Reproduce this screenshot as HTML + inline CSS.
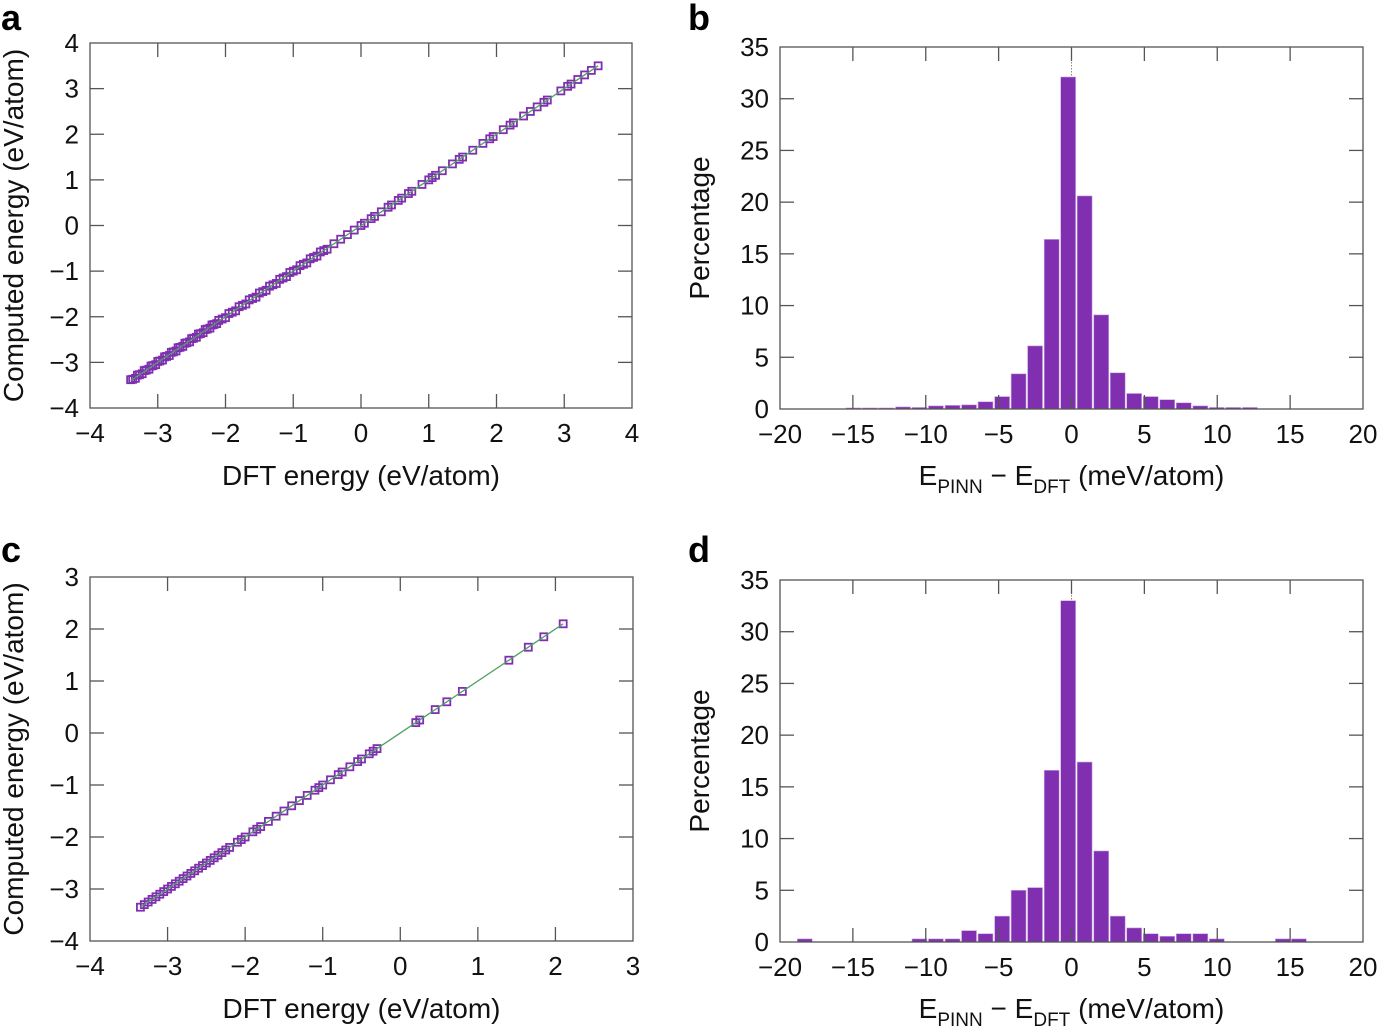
<!DOCTYPE html>
<html><head><meta charset="utf-8">
<style>
html,body{margin:0;padding:0;background:#fff;}
svg{display:block;font-family:"Liberation Sans",Arial,sans-serif;}
</style></head>
<body>
<svg id="fig" width="1379" height="1027" viewBox="0 0 1379 1027" xmlns="http://www.w3.org/2000/svg"></svg>
<script>
// ---- Panel a data (DFT vs computed energy, eV/atom) ----
const dftA = [-3.4,-3.37,-3.33,-3.3,-3.27,-3.23,-3.2,-3.17,-3.13,-3.1,-3.07,-3.03,-3.0,-2.97,-2.93,-2.9,-2.87,-2.83,-2.8,-2.77,-2.73,-2.7,-2.67,-2.63,-2.6,-2.57,-2.53,-2.5,-2.47,-2.43,-2.4,-2.37,-2.33,-2.3,-2.27,-2.23,-2.2,-2.17,-2.13,-2.1,-2.05,-2.0,-1.95,-1.9,-1.85,-1.8,-1.75,-1.7,-1.65,-1.6,-1.55,-1.5,-1.45,-1.4,-1.35,-1.3,-1.25,-1.2,-1.15,-1.1,-1.05,-1.0,-0.95,-0.9,-0.85,-0.8,-0.75,-0.7,-0.65,-0.6,-0.55,-0.5,-0.4,-0.3,-0.2,-0.1,0.0,0.05,0.15,0.2,0.3,0.4,0.45,0.55,0.6,0.7,0.75,0.9,1.0,1.05,1.1,1.2,1.35,1.45,1.5,1.65,1.8,1.9,1.95,2.1,2.2,2.25,2.4,2.5,2.6,2.7,2.75,2.95,3.05,3.1,3.2,3.3,3.4,3.5];
const compA = [-3.38,-3.37,-3.35,-3.28,-3.27,-3.25,-3.18,-3.17,-3.15,-3.08,-3.07,-3.05,-2.98,-2.97,-2.95,-2.88,-2.87,-2.85,-2.78,-2.77,-2.75,-2.68,-2.67,-2.65,-2.58,-2.57,-2.55,-2.48,-2.47,-2.45,-2.38,-2.37,-2.35,-2.28,-2.27,-2.25,-2.18,-2.17,-2.15,-2.08,-2.05,-2.02,-1.93,-1.9,-1.87,-1.78,-1.75,-1.72,-1.63,-1.6,-1.57,-1.48,-1.45,-1.42,-1.33,-1.3,-1.27,-1.18,-1.15,-1.12,-1.03,-1.0,-0.97,-0.88,-0.85,-0.82,-0.73,-0.7,-0.67,-0.58,-0.55,-0.52,-0.4,-0.3,-0.2,-0.1,0.0,0.05,0.15,0.2,0.3,0.4,0.45,0.55,0.6,0.7,0.75,0.9,1.0,1.05,1.1,1.2,1.35,1.45,1.5,1.65,1.8,1.9,1.95,2.1,2.2,2.25,2.4,2.5,2.6,2.7,2.75,2.95,3.05,3.1,3.2,3.3,3.4,3.5];
// ---- Panel c data ----
const dftC = [-3.35,-3.3,-3.25,-3.2,-3.15,-3.1,-3.05,-3.0,-2.95,-2.9,-2.85,-2.8,-2.75,-2.7,-2.65,-2.6,-2.55,-2.5,-2.45,-2.4,-2.35,-2.3,-2.25,-2.2,-2.1,-2.05,-2.0,-1.9,-1.85,-1.8,-1.7,-1.6,-1.5,-1.4,-1.3,-1.2,-1.1,-1.05,-1.0,-0.9,-0.8,-0.75,-0.65,-0.55,-0.5,-0.4,-0.35,-0.3,0.2,0.25,0.45,0.6,0.8,1.4,1.65,1.85,2.1];
const compC = [-3.35,-3.3,-3.25,-3.2,-3.15,-3.1,-3.05,-3.0,-2.95,-2.9,-2.85,-2.8,-2.75,-2.7,-2.65,-2.6,-2.55,-2.5,-2.45,-2.4,-2.35,-2.3,-2.25,-2.2,-2.1,-2.05,-2.0,-1.9,-1.85,-1.8,-1.7,-1.6,-1.5,-1.4,-1.3,-1.2,-1.1,-1.05,-1.0,-0.9,-0.8,-0.75,-0.65,-0.55,-0.5,-0.4,-0.35,-0.3,0.2,0.25,0.45,0.6,0.8,1.4,1.65,1.85,2.1];
// ---- Panel b histogram (bin centers in meV/atom, percentages) ----
const binsB = [-14.96,-13.83,-12.70,-11.56,-10.43,-9.30,-8.16,-7.03,-5.90,-4.76,-3.63,-2.50,-1.36,-0.23,0.90,2.04,3.17,4.30,5.44,6.57,7.70,8.84,9.97,11.10,12.24];
const pctB  = [0.1,0.1,0.1,0.2,0.15,0.3,0.35,0.4,0.7,1.2,3.4,6.1,16.4,32.1,20.6,9.1,3.5,1.5,1.2,0.9,0.6,0.3,0.15,0.15,0.15];
// ---- Panel d histogram ----
const binsD = [-18.3,-10.43,-9.30,-8.16,-7.03,-5.90,-4.76,-3.63,-2.50,-1.36,-0.23,0.90,2.04,3.17,4.30,5.44,6.57,7.70,8.84,9.97,14.5,15.6];
const pctD  = [0.3,0.3,0.3,0.3,1.1,0.8,2.5,5.0,5.26,16.6,33.0,17.4,8.8,2.5,1.36,0.8,0.55,0.8,0.8,0.3,0.3,0.3];
// ---- Tick labels ----
const ticksA = [-4,-3,-2,-1,0,1,2,3,4];
const ticksCx = [-4,-3,-2,-1,0,1,2,3];
const ticksCy = [-4,-3,-2,-1,0,1,2,3];
const ticksHx = [-20,-15,-10,-5,0,5,10,15,20];
const ticksHy = [0,5,10,15,20,25,30,35];

const NS = "http://www.w3.org/2000/svg";
const svg = document.getElementById('fig');
const PURPLE = "#7f2fb0", GREEN = "#4f9e63", FRAME = "#555";
function el(tag, attrs, parent){
  const e = document.createElementNS(NS, tag);
  for (const k in attrs) e.setAttribute(k, attrs[k]);
  (parent||svg).appendChild(e);
  return e;
}
function fmt(v){ return v<0 ? "\u2212"+Math.abs(v) : String(v); }

function axes(g, box, xs, ys, xt, yt){
  const fr = el('rect',{x:box.l,y:box.t,width:box.r-box.l,height:box.b-box.t,fill:'none',stroke:FRAME,'stroke-width':1.3},g);
  
  
  const TL = 14;
  xt.forEach(v=>{
    const x = xs(v);
    if (x>box.l+1 && x<box.r-1){
      el('line',{x1:x,y1:box.b,x2:x,y2:box.b-TL,stroke:FRAME,'stroke-width':1.3},g);
      el('line',{x1:x,y1:box.t,x2:x,y2:box.t+TL,stroke:FRAME,'stroke-width':1.3},g);
    }
    const t = el('text',{x:x,y:box.b+34,'font-size':26,'text-anchor':'middle',fill:'#111'},g);
    t.textContent = fmt(v);
    
    
  });
  yt.forEach(v=>{
    const y = ys(v);
    if (y>box.t+1 && y<box.b-1){
      el('line',{x1:box.l,y1:y,x2:box.l+TL,y2:y,stroke:FRAME,'stroke-width':1.3},g);
      el('line',{x1:box.r,y1:y,x2:box.r-TL,y2:y,stroke:FRAME,'stroke-width':1.3},g);
    }
    const t = el('text',{x:box.l-11,y:y+9,'font-size':26,'text-anchor':'end',fill:'#111'},g);
    t.textContent = fmt(v);
    
    
  });
}

function scatterPanel(name, box, xmin, xmax, ymin, ymax, xt, yt, dft, comp, letter, letterPos){
  const g = el('g',{});
  
  
  const xs = v => box.l + (v-xmin)/(xmax-xmin)*(box.r-box.l);
  const ys = v => box.b - (v-ymin)/(ymax-ymin)*(box.b-box.t);
  axes(g, box, xs, ys, xt, yt);
  const lo = Math.min(...dft), hi = Math.max(...dft);
  dft.forEach((d,i)=>{
    const r = el('rect',{x:xs(d)-3.5,y:ys(comp[i])-3.5,width:7,height:7,fill:'none',stroke:PURPLE,'stroke-width':1.8},g);
    
    
  });
  const fit = el('line',{x1:xs(lo),y1:ys(lo),x2:xs(hi),y2:ys(hi),stroke:GREEN,'stroke-width':1.3},g);
  
  
  const xt2 = el('text',{x:(box.l+box.r)/2,y:box.b+77,'font-size':28,'text-anchor':'middle',fill:'#111'},g);
  xt2.textContent = "DFT energy (eV/atom)";
  
  
  const cy = (box.t+box.b)/2;
  const yt2 = el('text',{x:0,y:0,'font-size':28,'text-anchor':'middle',fill:'#111',transform:`translate(23,${cy}) rotate(-90)`},g);
  yt2.textContent = "Computed energy (eV/atom)";
  
  
  const L = el('text',{x:letterPos[0],y:letterPos[1],'font-size':36,'font-weight':'bold',fill:'#000'},g);
  L.textContent = letter;
  
  
}

function histPanel(name, box, bins, pct, letter, letterPos){
  const g = el('g',{});
  
  
  const xs = v => box.l + (v+20)/40*(box.r-box.l);
  const ys = v => box.b - v/35*(box.b-box.t);
  const bw = 1.133*(box.r-box.l)/40;
  bins.forEach((c,i)=>{
    const y = ys(pct[i]);
    const r = el('rect',{x:xs(c)-bw/2+0.8,y:y,width:bw-1.6,height:box.b-y,fill:PURPLE,stroke:'#c9a6e0','stroke-width':0.6},g);
    
    
  });
  const mi = pct.indexOf(Math.max(...pct));
  el('line',{x1:xs(0),y1:box.t,x2:xs(0),y2:ys(pct[mi]),stroke:'#888','stroke-width':1,'stroke-dasharray':'1.5,1.5'},g);
  axes(g, box, xs, ys, ticksHx, ticksHy);
  const xt2 = el('text',{x:(box.l+box.r)/2,y:box.b+76,'font-size':28,'text-anchor':'middle',fill:'#111'},g);
  xt2.innerHTML = 'E<tspan font-size="19" dy="8">PINN</tspan><tspan dy="-8"> \u2212 E</tspan><tspan font-size="19" dy="8">DFT</tspan><tspan dy="-8"> (meV/atom)</tspan>';
  
  
  const cy = (box.t+box.b)/2;
  const yt2 = el('text',{x:0,y:0,'font-size':28,'text-anchor':'middle',fill:'#111',transform:`translate(709,${cy}) rotate(-90)`},g);
  yt2.textContent = "Percentage";
  
  
  const L = el('text',{x:letterPos[0],y:letterPos[1],'font-size':36,'font-weight':'bold',fill:'#000'},g);
  L.textContent = letter;
  
  
}

scatterPanel('panel-a',{l:90,r:632,t:43,b:408},-4,4,-4,4,ticksA,ticksA,dftA,compA,'a',[1,30]);
histPanel('panel-b',{l:780,r:1363,t:47,b:409},binsB,pctB,'b',[688,30]);
scatterPanel('panel-c',{l:90,r:633,t:577,b:941},-4,3,-4,3,ticksCx,ticksCy,dftC,compC,'c',[1,562]);
histPanel('panel-d',{l:780,r:1363,t:580,b:942},binsD,pctD,'d',[688,562]);
</script>
</body></html>
